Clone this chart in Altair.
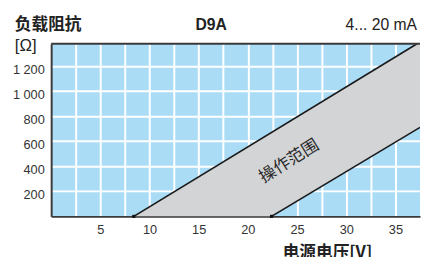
import altair as alt
import pandas as pd

# boundary lines (supply voltage V, load resistance Ohm)
left_v = [8.4, 37.2]
left_r = [0, 1380]
right_v = [22.4, 37.5]
right_r = [0, 712]
# operating range band vertices
band_v = [8.4, 22.4, 37.2, 37.5]
band_top = [0, 670, 1380, 1380]
band_bot = [0, 0, 700, 712]

x_grid = [2.5, 5, 7.5, 10, 12.5, 15, 17.5, 20, 22.5, 25, 27.5, 30, 32.5, 35]
y_grid = [200, 400, 600, 800, 1000, 1200]

W, H = 376, 176
XMAX, YMAX = 37.5, 1380
font = "Liberation Sans"
cjk = "Noto Sans CJK SC"

xs = alt.Scale(domain=[0, XMAX], nice=False, zero=False)
ys = alt.Scale(domain=[0, YMAX], nice=False)

band_df = pd.DataFrame({"v": band_v, "top": band_top, "bot": band_bot})
lines_df = pd.DataFrame({
    "v": left_v + right_v,
    "r": left_r + right_r,
    "k": ["left"] * 2 + ["right"] * 2,
})

xaxis = alt.Axis(values=x_grid, title=None, grid=True, gridColor="white", gridWidth=2,
                 ticks=False, domainColor="#3a3a3a", domainWidth=2,
                 labelExpr="datum.value % 5 == 0 ? format(datum.value, 'd') : ''",
                 labelFont=font, labelFontSize=13, labelColor="#333",
                 labelPadding=7, labelOverlap=False, labelFlush=False, labelBound=False)
yaxis = alt.Axis(values=y_grid, title=None, grid=True, gridColor="white", gridWidth=2,
                 ticks=False, domainColor="#3a3a3a", domainWidth=2,
                 labelExpr="replace(format(datum.value, ','), ',', ' ')",
                 labelFont=font, labelFontSize=13, labelColor="#333",
                 labelPadding=7, labelOffset=3, labelOverlap=False, labelFlush=False,
                 labelBound=False)

X = lambda f: alt.X(f, scale=xs, axis=xaxis)
Y = lambda f: alt.Y(f, scale=ys, axis=yaxis)

band = alt.Chart(band_df).mark_area(color="#d3d4d6", opacity=1, clip=True).encode(
    x=X("v:Q"), y=Y("top:Q"), y2="bot:Q",
)

lines = alt.Chart(lines_df).mark_line(color="#1a1a1a", strokeWidth=1.6, clip=True).encode(
    x=X("v:Q"), y=Y("r:Q"), detail="k:N",
)

ends = alt.Chart(pd.DataFrame({"v": [left_v[0], right_v[0]], "r": [0, 0]})).mark_square(
    color="#111", size=10, opacity=1).encode(x=X("v:Q"), y=Y("r:Q"))

label = alt.Chart(pd.DataFrame({"v": [24.2], "r": [440], "t": ["操作范围"]})).mark_text(
    font=cjk, fontSize=17, color="#2a2a2a", angle=328).encode(
    x=X("v:Q"), y=Y("r:Q"), text="t:N")

top_rule = alt.Chart(pd.DataFrame({"a": [0]})).mark_rule(color="#3a3a3a", strokeWidth=2).encode(
    x=alt.value(0), x2=alt.value(W), y=alt.value(0))

def txt(s, x, y, size, weight="normal", align="left", f=font, color="#222"):
    return alt.Chart(pd.DataFrame({"t": [s]})).mark_text(
        font=f, fontSize=size, fontWeight=weight, align=align, baseline="middle", color=color
    ).encode(x=alt.value(x), y=alt.value(y), text="t:N")

texts = [
    txt("负载阻抗", -37, -19, 17, "bold", f=cjk),
    txt("[Ω]", -37, 2, 17, f=font),
    txt("D9A", 163, -19, 16, "bold", align="center"),
    txt("4... 20 mA", 373, -19, 16, align="right"),
    txt("电源电压[V]", 236, 213, 17, "bold", f=cjk),
]

chart = alt.layer(band, lines, ends, label, top_rule, *texts).properties(
    width=W, height=H,
    autosize=alt.AutoSizeParams(type="none"),
    padding={"left": 44, "top": 34, "right": 1, "bottom": 40},
    background="white",
).configure_view(fill="#aadcf6", stroke=None)

chart.save("out.html", embed_options={"renderer": "svg", "actions": False})
